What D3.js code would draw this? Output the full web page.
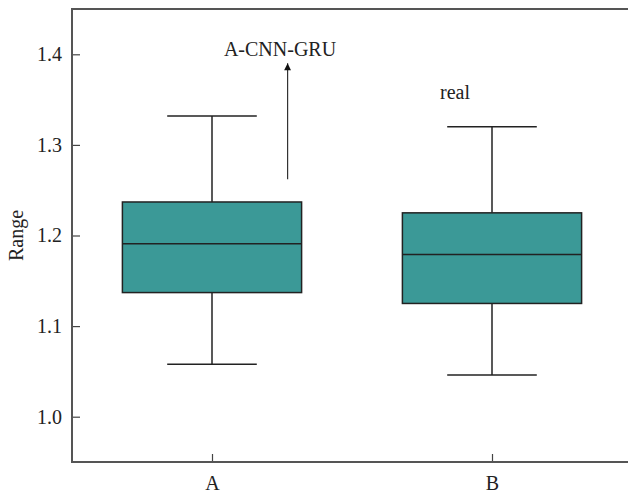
<!DOCTYPE html>
<html lang="en">
<head>
  <meta charset="UTF-8" />
  <title>Range box plot</title>
  <script src="https://d3js.org/d3.v7.min.js"></script>
  <style>
    body {
      background-color: white;
      margin: 0;
    }

    svg {
      display: block;
    }

    .axis line {
      stroke: #444;
      stroke-width: 1.2px;
    }
  </style>
</head>
<body>
  <svg></svg>

  <script>
    // data
    const categories = ["A", "B"];
    const whiskerLow = [1.058, 1.046];
    const q1 = [1.137, 1.125];
    const median = [1.191, 1.179];
    const q3 = [1.237, 1.225];
    const whiskerHigh = [1.332, 1.320];
    const yTicks = [1.0, 1.1, 1.2, 1.3, 1.4];
    const yLabel = "Range";

    const serif = "'Liberation Serif', 'Times New Roman', 'DejaVu Serif', serif";
    const width = 628;
    const height = 493;
    const margin = { top: 9, right: -4, bottom: 31, left: 72 };

    const svg = d3.select("svg")
      .attr("width", width)
      .attr("height", height);

    const x = d3.scalePoint()
      .domain(categories)
      .range([margin.left, width - margin.right])
      .padding(0.5);

    const y = d3.scaleLinear()
      .domain([0.95, 1.45])
      .range([height - margin.bottom, margin.top]);

    const boxW = x.step() * 0.64;
    const capW = boxW / 2;

    // y axis, ticks pointing inward
    const yAxis = svg.append("g")
      .attr("class", "axis")
      .attr("transform", `translate(${margin.left},0)`)
      .call(d3.axisLeft(y).tickValues(yTicks).tickFormat(d3.format(".1f"))
        .tickSizeInner(-8).tickSizeOuter(0).tickPadding(10));
    yAxis.select(".domain").remove();

    const xAxis = svg.append("g")
      .attr("class", "axis")
      .attr("transform", `translate(0,${height - margin.bottom})`)
      .call(d3.axisBottom(x).tickSizeInner(-8).tickSizeOuter(0).tickPadding(14));
    xAxis.select(".domain").remove();

    svg.selectAll(".axis")
      .attr("font-family", serif)
      .attr("font-size", 20);
    svg.selectAll(".axis text")
      .style("font-family", serif)
      .attr("fill", "#222");

    // frame (right side falls outside the picture)
    svg.append("rect")
      .attr("x", margin.left)
      .attr("y", margin.top)
      .attr("width", width - margin.right - margin.left)
      .attr("height", height - margin.bottom - margin.top)
      .attr("fill", "none")
      .attr("stroke", "#555")
      .attr("stroke-width", 2);

    function note(sel) {
      return sel.style("font-family", serif)
        .style("font-size", "20px")
        .attr("fill", "#222")
        .attr("text-anchor", "middle");
    }

    svg.append("text")
      .call(note)
      .attr("transform", `translate(23,${y(1.2)}) rotate(-90)`)
      .text(yLabel);

    const boxes = categories.map((c, i) => ({
      c, lo: whiskerLow[i], q1: q1[i], med: median[i], q3: q3[i], hi: whiskerHigh[i]
    }));

    const g = svg.append("g")
      .selectAll("g")
      .data(boxes)
      .enter().append("g")
      .attr("stroke", "#222")
      .attr("stroke-width", 1.5);

    // whiskers
    g.append("line")
      .attr("x1", d => x(d.c)).attr("x2", d => x(d.c))
      .attr("y1", d => y(d.hi)).attr("y2", d => y(d.q3));
    g.append("line")
      .attr("x1", d => x(d.c)).attr("x2", d => x(d.c))
      .attr("y1", d => y(d.q1)).attr("y2", d => y(d.lo));
    g.append("line")
      .attr("x1", d => x(d.c) - capW / 2).attr("x2", d => x(d.c) + capW / 2)
      .attr("y1", d => y(d.hi)).attr("y2", d => y(d.hi));
    g.append("line")
      .attr("x1", d => x(d.c) - capW / 2).attr("x2", d => x(d.c) + capW / 2)
      .attr("y1", d => y(d.lo)).attr("y2", d => y(d.lo));

    g.append("rect")
      .attr("x", d => x(d.c) - boxW / 2)
      .attr("width", boxW)
      .attr("y", d => y(d.q3))
      .attr("height", d => y(d.q1) - y(d.q3))
      .attr("fill", "#3b9997");

    g.append("line")
      .attr("x1", d => x(d.c) - boxW / 2).attr("x2", d => x(d.c) + boxW / 2)
      .attr("y1", d => y(d.med)).attr("y2", d => y(d.med));

    // annotations
    svg.append("defs").append("marker")
      .attr("id", "head")
      .attr("viewBox", "0 0 10 10")
      .attr("refX", 10).attr("refY", 5)
      .attr("markerWidth", 12).attr("markerHeight", 7)
      .attr("markerUnits", "userSpaceOnUse")
      .attr("orient", "auto")
      .append("path")
      .attr("d", "M0,0L10,5L0,10Z")
      .attr("fill", "#111");

    const arrowX = x("A") + 0.27 * x.step();
    svg.append("line")
      .attr("x1", arrowX).attr("x2", arrowX)
      .attr("y1", y(1.262)).attr("y2", y(1.39))
      .attr("stroke", "#333")
      .attr("stroke-width", 1.2)
      .attr("marker-end", "url(#head)");

    svg.append("text")
      .call(note)
      .attr("x", x("A") + 0.243 * x.step())
      .attr("y", y(1.398))
      .text("A-CNN-GRU");

    svg.append("text")
      .call(note)
      .attr("x", x("B") - 0.132 * x.step())
      .attr("y", y(1.351))
      .text("real");
  </script>
</body>
</html>
